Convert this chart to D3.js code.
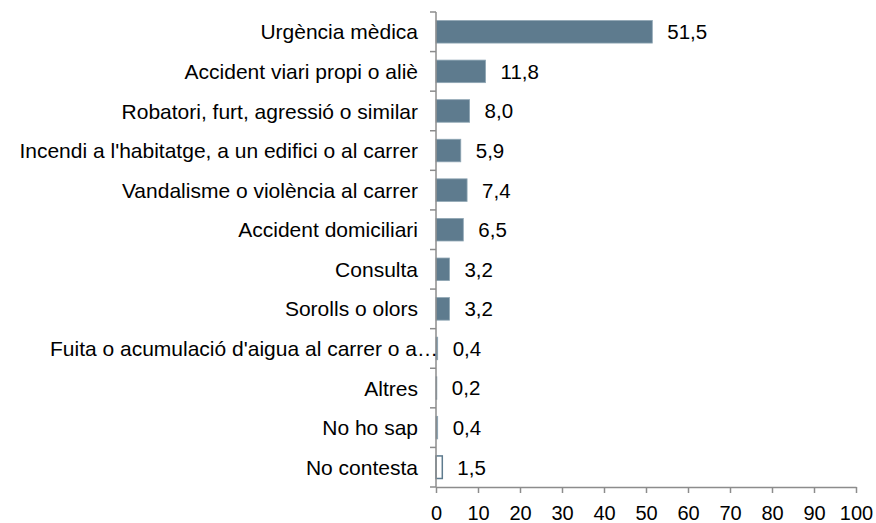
<!DOCTYPE html>
<html><head><meta charset="utf-8">
<script src="https://cdn.jsdelivr.net/npm/d3@7"></script>
<style>body{margin:0;background:#fff}svg{display:block}text{font-family:"Liberation Sans",Arial,sans-serif}</style>
</head><body>
<script>
const categories = ["Urgència mèdica","Accident viari propi o aliè","Robatori, furt, agressió o similar","Incendi a l'habitatge, a un edifici o al carrer","Vandalisme o violència al carrer","Accident domiciliari","Consulta","Sorolls o olors","Fuita o acumulació d'aigua al carrer o a…","Altres","No ho sap","No contesta"];
const values = [51.5,11.8,8.0,5.9,7.4,6.5,3.2,3.2,0.4,0.2,0.4,1.5];
const xTicks = [0,10,20,30,40,50,60,70,80,90,100];
const outlined = ["No contesta"];

const W=876,H=523;
const svg=d3.select("body").append("svg").attr("width",W).attr("height",H);
const x=d3.scaleLinear().domain([0,100]).range([436,856]);
const y=d3.scaleBand().domain(categories).range([12,487]).paddingInner(0.43).paddingOuter(0.215);
const fill="#5e7b8e", axisCol="#8c8c8c";

// bars
svg.selectAll("rect.bar").data(categories).enter().append("rect")
  .attr("x",x(0)).attr("y",d=>y(d))
  .attr("width",(d,i)=>Math.max(0,x(values[i])-x(0)))
  .attr("height",y.bandwidth())
  .attr("fill",d=>outlined.includes(d)?"#fff":fill)
  .attr("stroke",d=>outlined.includes(d)?fill:"#8fa6b4")
  .attr("stroke-width",d=>outlined.includes(d)?1.5:0.8);

// value labels
svg.selectAll("text.val").data(categories).enter().append("text")
  .attr("x",(d,i)=>x(values[i])+15).attr("y",d=>y(d)+y.bandwidth()/2)
  .attr("dy","0.36em").attr("font-size",20.5).attr("fill","#000")
  .text((d,i)=>d3.format(".1f")(values[i]).replace(".",","));

// y axis
const step=y.step();
const yA=svg.append("g");
yA.append("line").attr("x1",436).attr("x2",436).attr("y1",12).attr("y2",487).attr("stroke",axisCol).attr("stroke-width",1.5);
const bounds=d3.range(categories.length+1).map(i=>12+i*step);
yA.selectAll("line.t").data(bounds).enter().append("line")
  .attr("x1",430).attr("x2",436).attr("y1",d=>d).attr("y2",d=>d).attr("stroke",axisCol).attr("stroke-width",1.5);
yA.selectAll("text").data(categories).enter().append("text")
  .attr("x",d=>d.endsWith("…")?438:418).attr("y",d=>y(d)+y.bandwidth()/2)
  .attr("dy","0.36em").attr("text-anchor","end").attr("font-size",21).attr("fill","#000").text(d=>d);

// x axis
const xA=svg.append("g").attr("transform","translate(0,487)");
xA.call(d3.axisBottom(x).tickValues(xTicks).tickSize(6).tickPadding(13).tickSizeOuter(0).tickFormat(d3.format("d")));
xA.select(".domain").attr("stroke",axisCol).attr("stroke-width",1.5);
xA.selectAll(".tick line").attr("stroke",axisCol).attr("stroke-width",1.5);
xA.selectAll(".tick text").attr("font-size",20).attr("fill","#000").attr("font-family","Liberation Sans, Arial, sans-serif");
</script>
</body></html>
